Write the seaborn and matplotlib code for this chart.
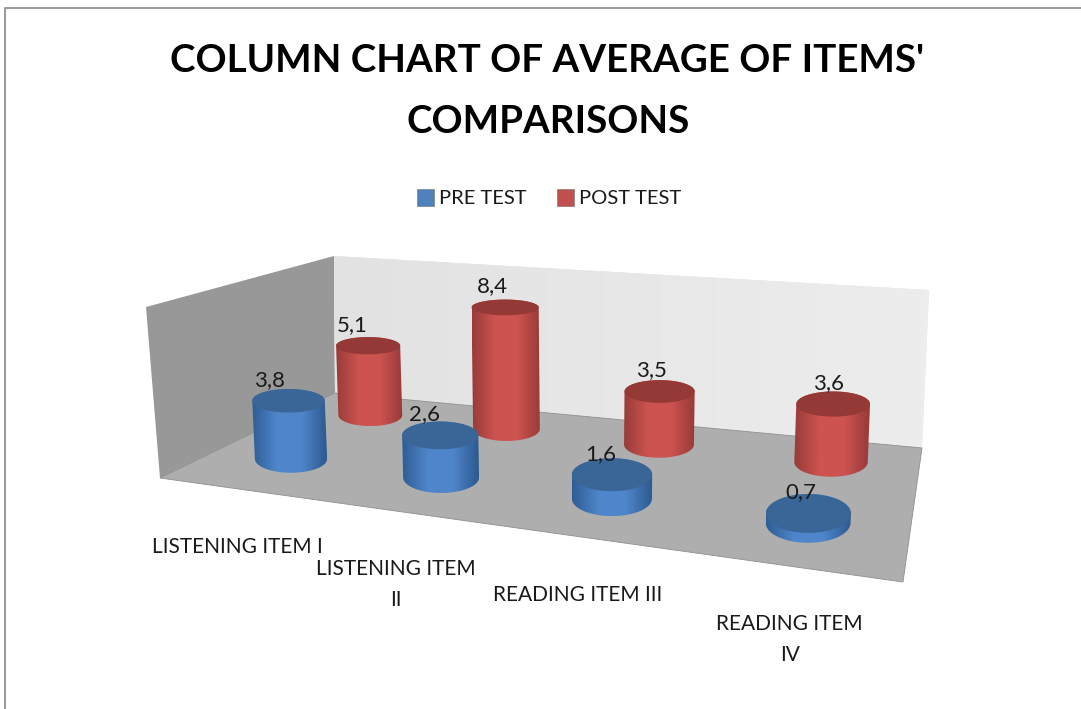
import numpy as np
import pandas as pd
import seaborn as sns
import matplotlib
matplotlib.use('Agg')
import matplotlib.pyplot as plt
from matplotlib.patches import Patch, Polygon

categories = ['LISTENING ITEM I', 'LISTENING ITEM\nII', 'READING ITEM III', 'READING ITEM\nIV']
pre_test = [3.8, 2.6, 1.6, 0.7]
post_test = [5.1, 8.4, 3.5, 3.6]
value_max = 10

sns.set_theme(style='white')
plt.rcParams['font.family'] = ['Lato', 'DejaVu Sans']

# frame of the 3d box in pixels, used to build the projection
floor = dict(fl=(160, 478), fr=(903, 582), bl=(335, 393), br=(922, 448))
tops = dict(fl=(146, 307), bl=(334, 256), br=(929, 290))


def floor_matrix():
    (x0, y0), (x1, y1) = floor['fl'], floor['fr']
    (x2, y2), (x3, y3) = floor['bl'], floor['br']
    det = (x1 - x3) * (y2 - y3) - (x2 - x3) * (y1 - y3)
    sx, sy = x0 - x1 + x3 - x2, y0 - y1 + y3 - y2
    g = (sx * (y2 - y3) - (x2 - x3) * sy) / det
    h = ((x1 - x3) * sy - sx * (y1 - y3)) / det
    return np.array([[x1 - x0 + g * x1, x2 - x0 + h * x2, x0],
                     [y1 - y0 + g * y1, y2 - y0 + h * y2, y0],
                     [g, h, 1.0]])


H = floor_matrix()


def vertical_column():
    # direction of the value axis, fitted on the three top corners of the walls
    A, B = [], []
    for (s, t), (X, Y) in zip([(0, 0), (0, 1), (1, 1)], [tops['fl'], tops['bl'], tops['br']]):
        n = H @ [s, t, 1]
        A.append([value_max, 0, -X * value_max])
        B.append(X * n[2] - n[0])
        A.append([0, value_max, -Y * value_max])
        B.append(Y * n[2] - n[1])
    return np.linalg.lstsq(np.array(A), np.array(B), rcond=None)[0]


Z = vertical_column()


def project(u, v, z):
    s = np.asarray(u, float) / len(categories)
    t = np.asarray(v, float)
    z = np.asarray(z, float)
    x = H[0, 0] * s + H[0, 1] * t + H[0, 2] + Z[0] * z
    y = H[1, 0] * s + H[1, 1] * t + H[1, 2] + Z[1] * z
    w = H[2, 0] * s + H[2, 1] * t + H[2, 2] + Z[2] * z
    return x / w, y / w


def height_factor(u, v):
    # heights grow less towards the near corner than the wall frame would give
    w = H[2, 0] * u / len(categories) + H[2, 1] * v + H[2, 2]
    return 0.96 + 2 * min(0, w - 0.98)


def level_ring(u, v, z, ru, rv, wide):
    # the chart draws round caps as level ellipses, whatever the floor skew
    cx, cy = project(u, v, z)
    xl, _ = project(u - ru, v, z)
    xr, _ = project(u + ru, v, z)
    _, yb = project(u, v - rv, z)
    _, yt = project(u, v + rv, z)
    a = wide * ((xr - xl) / 2) ** 0.4
    return np.column_stack([cx + a * np.cos(angles), cy + (yb - yt) / 2 * np.sin(angles)])


def hull(pts):
    pts = sorted(map(tuple, pts))
    def half(seq):
        out = []
        for p in seq:
            while len(out) > 1 and np.cross(np.subtract(out[-1], out[-2]), np.subtract(p, out[-1])) <= 0:
                out.pop()
            out.append(p)
        return out[:-1]
    return half(pts) + half(pts[::-1])


fig, ax = plt.subplots(figsize=(10.81, 7.09), dpi=100)
fig.subplots_adjust(0, 0, 1, 1)
ax.set_axis_off()
ax.autoscale(False)
ax.set_xlim(0, 1081)
ax.set_ylim(709, 0)
ax.plot([5, 5, 1081], [709, 8, 8], color='#9a9a9a', lw=1.4, zorder=0)

# walls and floor
ax.add_patch(Polygon([tops['fl'], tops['bl'], floor['bl'], floor['fl']], fc='#989898', ec='none', zorder=1))
back = Polygon([tops['bl'], tops['br'], floor['br'], floor['bl']], fc='#e6e6e6', ec='none', zorder=1)
ax.add_patch(back)
wall_cmap = sns.blend_palette(['#e2e2e2', '#ededed'], 32, as_cmap=True)
im = ax.imshow(np.linspace(0, 1, 64)[None, :], extent=(334, 930, 448, 256), cmap=wall_cmap, aspect='auto', zorder=1)
im.set_clip_path(back)
ax.add_patch(Polygon([floor['fl'], floor['fr'], floor['br'], floor['bl']], fc='#aeaeae', ec='#8f8f8f', lw=0.6, zorder=2))

df = pd.DataFrame({'category': categories, 'PRE TEST': pre_test, 'POST TEST': post_test})
df['pos'] = np.arange(len(df)) + 0.5
long = df.melt(id_vars=['category', 'pos'], var_name='series', value_name='value')

depth = {'PRE TEST': 0.28, 'POST TEST': 0.78}
radius_u, radius_v = 0.2, 0.14
u_shift = 0.035
widths = {'PRE TEST': 9.5, 'POST TEST': 8.7}
body_cmaps = {'PRE TEST': sns.blend_palette(['#2f5e96', '#4f86cb', '#4f86cb', '#2c5a90'], 64, as_cmap=True),
              'POST TEST': sns.blend_palette(['#983c39', '#cc5350', '#cc5350', '#983a38'], 64, as_cmap=True)}
cap_colors = {'PRE TEST': '#3a6597', 'POST TEST': '#943936'}
swatch_colors = {'PRE TEST': '#4f81bd', 'POST TEST': '#c0504d'}
angles = np.linspace(0, 2 * np.pi, 90, endpoint=False)

# back row first so the front row overlaps it
zo = 3
for series in ['POST TEST', 'PRE TEST']:
    for _, row in long[long['series'] == series].iterrows():
        u = row['pos'] + u_shift
        v = depth[series]
        z = row['value'] * height_factor(u, v)
        bottom = level_ring(u, v, 0, radius_u, radius_v, widths[series])
        top = level_ring(u, v, z, radius_u, radius_v, widths[series])
        outline = Polygon(hull(np.vstack([bottom, top])), fc='none', ec='none', zorder=zo)
        ax.add_patch(outline)
        xs = np.r_[bottom[:, 0], top[:, 0]]
        ys = np.r_[bottom[:, 1], top[:, 1]]
        im = ax.imshow(np.linspace(0, 1, 64)[None, :], extent=(xs.min(), xs.max(), ys.max(), ys.min()),
                       cmap=body_cmaps[series], aspect='auto', zorder=zo)
        im.set_clip_path(outline)
        ax.add_patch(Polygon(top, fc=cap_colors[series], ec='none', zorder=zo + 1))

        cx, cy = project(u, v, z)
        shift = -19 + 3.7 * (row['pos'] - 0.5) + (3 if series == 'POST TEST' else 0)
        ax.text(cx + shift, cy - 21, f"{row['value']:.1f}".replace('.', ','), ha='center', va='center',
                fontsize=16, family='Lato', color='#1a1a1a', zorder=20)
        zo += 2

# category labels hang below the front edge of the floor
for _, row in df.iterrows():
    lx, ly = project(row['pos'], 0, 0)
    ax.text(lx + 6, ly + 49, row['category'], ha='center', va='top', fontsize=15,
            color='#1a1a1a', linespacing=1.7, zorder=20)

ax.text(547, 61, "COLUMN CHART OF AVERAGE OF ITEMS'", ha='center', va='center', fontsize=27.7, fontweight='bold', color='black')
ax.text(548, 122, 'COMPARISONS', ha='center', va='center', fontsize=27.7, fontweight='bold', color='black')

handles = [Patch(fc=swatch_colors[s], ec='#6d6d6d', lw=0.4, label=s) for s in ['PRE TEST', 'POST TEST']]
ax.legend(handles=handles, loc='center', bbox_to_anchor=(549, 198), bbox_transform=ax.transData, ncol=2,
          frameon=False, fontsize=14.5, handlelength=0.85, handleheight=0.95, handletextpad=0.25,
          columnspacing=1.5, labelcolor='#1a1a1a')

sns.despine(ax=ax, left=True, bottom=True)
fig.savefig('out.png', dpi=100)
